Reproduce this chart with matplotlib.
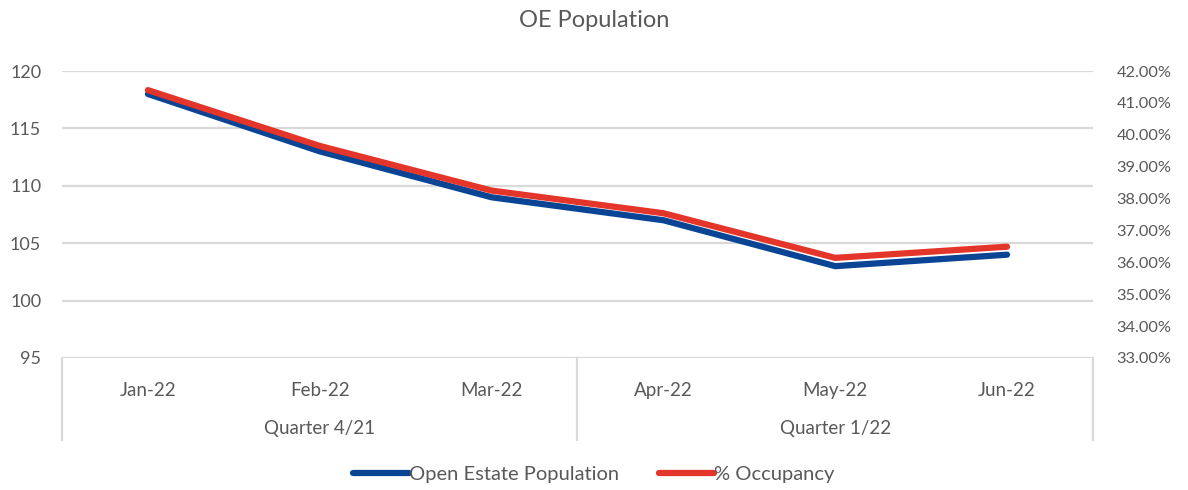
import matplotlib
matplotlib.use("Agg")
import matplotlib.pyplot as plt
import matplotlib.transforms as mtransforms
from matplotlib.ticker import FuncFormatter, MultipleLocator

plt.rcParams['font.family'] = ['Lato', 'DejaVu Sans']

months = ['Jan-22', 'Feb-22', 'Mar-22', 'Apr-22', 'May-22', 'Jun-22']
quarters = ['Quarter 4/21', 'Quarter 1/22']
quarter_sizes = [3, 3]
population = [118, 113, 109, 107, 103, 104]
occupancy = [41.40, 39.65, 38.25, 37.54, 36.14, 36.49]

text_col = '#595959'
grid_col = '#d9d9d9'
blue = '#0a4595'
red = '#e4352a'

fig = plt.figure(figsize=(11.88, 4.9), dpi=100)
ax = fig.add_axes([0.0522, 0.2694, 0.8678, 0.5857])
ax2 = ax.twinx()

x = list(range(len(months)))
l1, = ax.plot(x, population, color=blue, lw=4.5, solid_capstyle='round',
              solid_joinstyle='round', label='Open Estate Population', zorder=3)
l2, = ax2.plot(x, occupancy, color=red, lw=4.5, solid_capstyle='round',
               solid_joinstyle='round', label='% Occupancy', zorder=3)

ax.set_xlim(-0.5, len(months) - 0.5)
ax.set_ylim(95, 120)
ax.yaxis.set_major_locator(MultipleLocator(5))
ax2.set_ylim(33, 42)
ax2.yaxis.set_major_locator(MultipleLocator(1))
ax2.yaxis.set_major_formatter(FuncFormatter(lambda v, p: f'{v:.2f}%'))

ax.grid(axis='y', color=grid_col, lw=1.6)
ax.set_axisbelow(True)
for a in (ax, ax2):
    for s in a.spines.values():
        s.set_visible(False)
ax.tick_params(axis='y', length=0, pad=15, labelsize=13, labelcolor=text_col)
ax2.tick_params(axis='y', length=0, pad=17, labelsize=11.8, labelcolor=text_col)

# category labels below the plot
ax.set_xticks(x)
ax.set_xticklabels(months)
ax.tick_params(axis='x', length=0, pad=17, labelsize=13.5, labelcolor=text_col)

trans = mtransforms.blended_transform_factory(ax.transData, ax.transAxes)
depth = -(440 - 358) / 287
start = -0.5
bounds = [start]
for q, n in zip(quarters, quarter_sizes):
    ax.text(start + n / 2, -0.245, q, transform=trans, ha='center', va='center',
            fontsize=13.5, color=text_col)
    start += n
    bounds.append(start)
for b in bounds:
    ax.plot([b, b], [0, depth], transform=trans, color=grid_col, lw=1.6,
            clip_on=False)

fig.suptitle('OE Population', y=0.959, va='center', fontsize=17, color=text_col)

fig.legend(handles=[l1, l2], loc='center', bbox_to_anchor=(0.5, 0.031),
           ncol=2, frameon=False, fontsize=14.5, handlelength=2.75,
           handletextpad=0.0, columnspacing=2.0, labelcolor=text_col)

fig.savefig('out.png', dpi=100)
